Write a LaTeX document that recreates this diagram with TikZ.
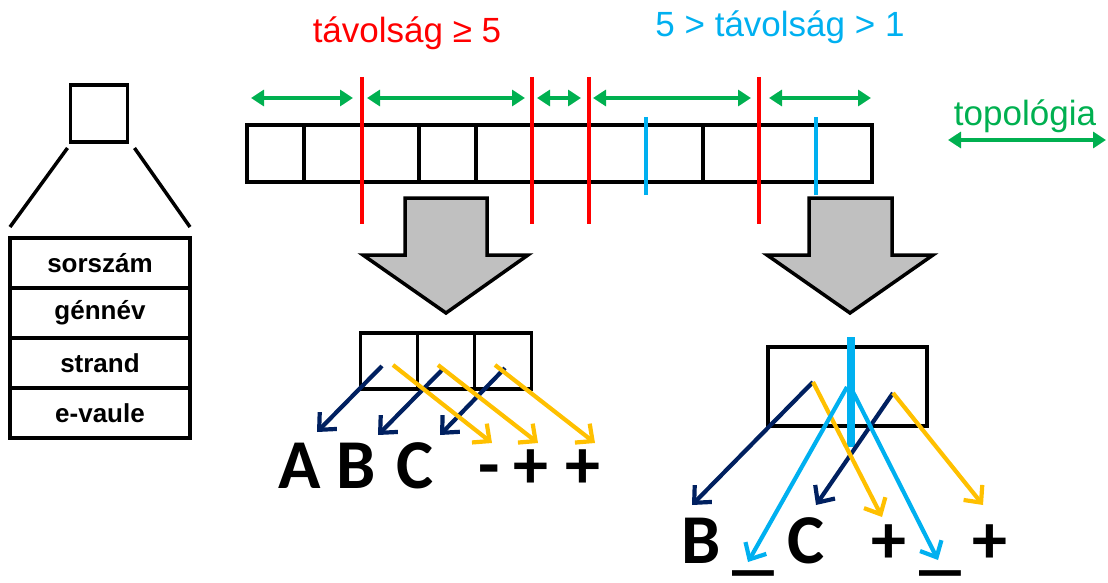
\documentclass[tikz,border=0pt]{standalone}
\usepackage{fontspec}
\setmainfont{Liberation Sans}
\newfontfamily\calibri{Carlito}
\usetikzlibrary{arrows.meta,positioning}
\definecolor{zold}{RGB}{0,176,80}
\definecolor{piros}{RGB}{255,0,0}
\definecolor{kek}{RGB}{0,176,240}
\definecolor{sarga}{RGB}{255,192,0}
\definecolor{sotet}{RGB}{0,32,96}
\definecolor{szurke}{RGB}{192,192,192}
\begin{document}
\begin{tikzpicture}[x=1pt,y=-1pt,
	box/.style={draw,line width=3.5pt},
	cella/.style={draw,line width=3.5pt,inner sep=0pt,outer sep=0pt},
	mezo/.style={cella,minimum width=180pt,minimum height=50pt,font=\bfseries\fontsize{26}{26}\selectfont},
	hatar/.style={line width=4.5pt,piros},
	kis/.style={line width=3.5pt,kek},
	tav/.style={line width=4.5pt,zold,{Triangle[length=13pt,width=16pt]}-{Triangle[length=13pt,width=16pt]}},
	le/.style={draw,line width=3.5pt,fill=szurke,line join=miter},
	nyil/.style={line width=4.2pt,-{Straight Barb[length=13pt,width=24pt]}},
	betu/.style={font=\calibri\bfseries\fontsize{70}{70}\selectfont,inner sep=0pt,anchor=base},
	cimke/.style={font=\fontsize{35}{35}\selectfont,inner sep=0pt,anchor=base}]
\useasboundingbox (0,0) rectangle (1108,583);

% labels
\node[cimke,text=piros] (nagytav) at (407,43) {távolság ≥ 5};
\node[cimke,text=kek] (kistav) at (780,37) {5 > távolság > 1};
\node[cimke,text=zold] (topo) at (1025,126) {topológia};
\coordinate (tb) at (948,140);
\coordinate (tj) at (1106,140);
\draw[tav] (tb) -- (tj);

% record
\node[cella,minimum size=57pt] (gen) at (99,113.5) {};
\node[mezo] (r1) at (100,263) {sorszám};
\node[mezo,below=0pt of r1] (r2) {génnév};
\node[mezo,below=0pt of r2] (r3) {strand};
\node[mezo,below=0pt of r3] (r4) {e-vaule};
\draw[line width=3.5pt] ([shift={(-3,6)}]gen.south west) -- ([shift={(0,-11)}]r1.north west);
\draw[line width=3.5pt] ([shift={(7,6)}]gen.south east) -- ([shift={(0,-11)}]r1.north east);

% genome
\node[cella,minimum width=625pt,minimum height=57pt,anchor=north west] (sor) at (247,125) {};
\foreach \x in {304,419,476,703}
	\draw[box] (\x,125) -- (\x,182);
\foreach \x in {362,532,589,759}
	\draw[hatar] (\x,77) -- (\x,224);
\foreach \x in {646,816}
	\draw[kis] (\x,117) -- (\x,195);
\foreach \a/\b in {251/353,367/525,537/581,593/751,769/871}
	\draw[tav] (\a,98) -- (\b,98);

% block arrows
\draw[le] (405,198) -- (487,198) -- (487,255) -- (528,255) -- (446,313) -- (363,255) -- (405,255) -- cycle;
\draw[le] (809,198) -- (892,198) -- (892,255) -- (933,255) -- (850,313) -- (767,255) -- (809,255) -- cycle;

% left result
\node[cella,minimum width=57pt,minimum height=56pt] (h1) at (389,361) {};
\node[cella,minimum width=57pt,minimum height=56pt,right=0pt of h1] (h2) {};
\node[cella,minimum width=57pt,minimum height=56pt,right=0pt of h2] (h3) {};
\node[betu] (A) at (300,488) {A};
\node[betu] (B) at (356,488) {B};
\node[betu] (C) at (415,488) {C};
\node[betu] (m1) at (489,488) {-};
\node[betu] (p1) at (531,488) {+};
\node[betu] (p2) at (583,488) {+};
\coordinate (n1) at (382,366); \coordinate (na) at (317,432);
\coordinate (n2) at (442,370); \coordinate (nb) at (378,435);
\coordinate (n3) at (505,368); \coordinate (nc) at (440,435);
\coordinate (o1) at (393,365); \coordinate (oa) at (492,443);
\coordinate (o2) at (438,365); \coordinate (ob) at (538,443);
\coordinate (o3) at (495,365); \coordinate (oc) at (595,443);
\foreach \a/\b in {n1/na,n2/nb,n3/nc}
	\draw[nyil,sotet] (\a) -- (\b);
\foreach \a/\b in {o1/oa,o2/ob,o3/oc}
	\draw[nyil,sarga] (\a) -- (\b);

% right result
\node[cella,minimum width=159pt,minimum height=79pt] (jobb) at (847.5,386.5) {};
\draw[line width=8pt,kek] (851,337) -- (851,447);
\node[betu] (B2) at (701,563) {B};
\node[betu] (u1) at (753,566) {\scalebox{1.2}[1]{\_}};
\node[betu] (C2) at (806,563) {C};
\node[betu] (p3) at (889,563) {+};
\node[betu] (u2) at (940,566) {\scalebox{1.2}[1]{\_}};
\node[betu] (p4) at (990,563) {+};
\coordinate (j1) at (813,382); \coordinate (ja) at (692,505);
\coordinate (j2) at (893,393); \coordinate (jb) at (816,505);
\coordinate (jc) at (882,517); \coordinate (jd) at (983,505);
\coordinate (k1) at (847,387); \coordinate (ka) at (748,562);
\coordinate (k2) at (853,392); \coordinate (kb) at (938,560);
\foreach \a/\b in {j1/ja,j2/jb}
	\draw[nyil,sotet] (\a) -- (\b);
\foreach \a/\b in {j1/jc,j2/jd}
	\draw[nyil,sarga] (\a) -- (\b);
\foreach \a/\b in {k1/ka,k2/kb}
	\draw[nyil,kek] (\a) -- (\b);
\end{tikzpicture}
\end{document}
